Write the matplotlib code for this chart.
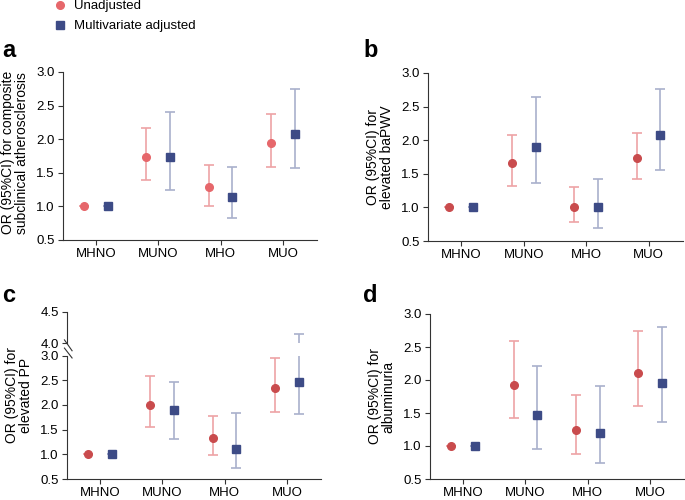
import numpy as np
import matplotlib
matplotlib.use("Agg")
import matplotlib.pyplot as plt

plt.rcParams['font.family'] = ['Liberation Sans', 'DejaVu Sans']

groups = ['MHNO', 'MUNO', 'MHO', 'MUO']

# panel a: composite subclinical atherosclerosis
a_unadj = [1.00, 1.73, 1.29, 1.95]
a_unadj_lo = [1.00, 1.39, 1.01, 1.59]
a_unadj_hi = [1.00, 2.16, 1.62, 2.37]
a_adj = [1.00, 1.73, 1.14, 2.08]
a_adj_lo = [1.00, 1.25, 0.82, 1.57]
a_adj_hi = [1.00, 2.41, 1.59, 2.75]

# panel b: elevated baPWV
b_unadj = [1.00, 1.66, 1.01, 1.73]
b_unadj_lo = [1.00, 1.32, 0.78, 1.42]
b_unadj_hi = [1.00, 2.08, 1.30, 2.11]
b_adj = [1.00, 1.90, 1.01, 2.07]
b_adj_lo = [1.00, 1.36, 0.70, 1.55]
b_adj_hi = [1.00, 2.65, 1.43, 2.76]

# panel c: elevated PP (broken axis)
c_unadj = [1.00, 2.00, 1.33, 2.34]
c_unadj_lo = [1.00, 1.55, 0.98, 1.86]
c_unadj_hi = [1.00, 2.59, 1.78, 2.94]
c_adj = [1.00, 1.90, 1.10, 2.46]
c_adj_lo = [1.00, 1.31, 0.72, 1.82]
c_adj_hi = [1.00, 2.47, 1.83, 4.14]

# panel d: albuminuria
d_unadj = [1.00, 1.93, 1.25, 2.10]
d_unadj_lo = [1.00, 1.42, 0.88, 1.61]
d_unadj_hi = [1.00, 2.59, 1.77, 2.74]
d_adj = [1.00, 1.47, 1.20, 1.96]
d_adj_lo = [1.00, 0.96, 0.75, 1.37]
d_adj_hi = [1.00, 2.21, 1.91, 2.81]

red_light, red_dark = '#e6676b', '#c94b4d'
red_bar = '#eea3a5'
blue, blue_bar = '#3d4b86', '#a9b0cc'

x = np.arange(len(groups))
off = 0.19


def draw(ax, mu, lo, hi, ma, alo, ahi, rcol, rbar):
    mu, lo, hi = map(np.array, (mu, lo, hi))
    ma, alo, ahi = map(np.array, (ma, alo, ahi))
    ax.errorbar(x - off, mu, yerr=[mu - lo, hi - mu], fmt='o', ms=5.5,
                color=rcol, ecolor=rbar, elinewidth=1.2, capsize=3.5,
                capthick=1.2)
    ax.errorbar(x + off, ma, yerr=[ma - alo, ahi - ma], fmt='s', ms=6,
                color=blue, ecolor=blue_bar, elinewidth=1.2, capsize=3.5,
                capthick=1.2)


def style(ax, ylabel, ylab_y=0.5):
    for s in ['top', 'right']:
        ax.spines[s].set_visible(False)
    for s in ['left', 'bottom']:
        ax.spines[s].set_linewidth(0.8)
        ax.spines[s].set_color('#333333')
    ax.set_xlim(-0.53, 3.55)
    ax.set_xticks(x)
    ax.set_xticklabels(groups)
    ax.tick_params(labelsize=9.5, length=3.5, width=0.8, color='#333333', pad=2.5)
    ax.set_ylabel(ylabel, fontsize=10, linespacing=1.0)
    ax.yaxis.set_label_coords(-0.135, ylab_y)


fig = plt.figure(figsize=(6.85, 5), dpi=100)

ax_a = fig.add_axes([0.092, 0.52, 0.371, 0.336])
draw(ax_a, a_unadj, a_unadj_lo, a_unadj_hi, a_adj, a_adj_lo, a_adj_hi,
     red_light, red_bar)
ax_a.set_ylim(0.5, 3.0)
ax_a.set_yticks(np.arange(0.5, 3.01, 0.5))
style(ax_a, 'OR (95%CI) for composite\nsubclinical atherosclerosis', ylab_y=0.52)

ax_b = fig.add_axes([0.625, 0.518, 0.372, 0.336])
draw(ax_b, b_unadj, b_unadj_lo, b_unadj_hi, b_adj, b_adj_lo, b_adj_hi,
     red_dark, red_bar)
ax_b.set_ylim(0.5, 3.0)
ax_b.set_yticks(np.arange(0.5, 3.01, 0.5))
style(ax_b, 'OR (95%CI) for\nelevated baPWV')

# panel c with broken y axis
ax_c = fig.add_axes([0.0978, 0.042, 0.371, 0.247])
ax_ct = fig.add_axes([0.0978, 0.314, 0.371, 0.062])
for ax in (ax_c, ax_ct):
    draw(ax, c_unadj, c_unadj_lo, c_unadj_hi, c_adj, c_adj_lo, c_adj_hi,
         red_dark, red_bar)
ax_c.set_ylim(0.5, 3.0)
ax_c.set_yticks(np.arange(0.5, 3.01, 0.5))
style(ax_c, 'OR (95%CI) for\nelevated PP', ylab_y=0.68)
ax_ct.set_ylim(4.0, 4.5)
ax_ct.set_yticks([4.0, 4.5])
ax_ct.set_yticklabels(['4.0', '4.5'])
style(ax_ct, '')
ax_ct.spines['bottom'].set_visible(False)
ax_ct.tick_params(axis='x', bottom=False, labelbottom=False)
# break marks
kw = dict(color='#333333', lw=0.8, clip_on=False)
ax_ct.plot([-0.01, 0.02], [0.1, -0.25], transform=ax_ct.transAxes, **kw)
ax_c.plot([-0.01, 0.02], [1.06, 0.98], transform=ax_c.transAxes, **kw)

ax_d = fig.add_axes([0.628, 0.042, 0.371, 0.33])
draw(ax_d, d_unadj, d_unadj_lo, d_unadj_hi, d_adj, d_adj_lo, d_adj_hi,
     red_dark, red_bar)
ax_d.set_ylim(0.5, 3.0)
ax_d.set_yticks(np.arange(0.5, 3.01, 0.5))
style(ax_d, 'OR (95%CI) for\nalbuminuria')

for lbl, xx, yy in [('a', 0.003, 0.886), ('b', 0.53, 0.886),
                    ('c', 0.003, 0.396), ('d', 0.53, 0.396)]:
    fig.text(xx, yy, lbl, fontsize=17, fontweight='bold', va='baseline')

leg_h1 = plt.Line2D([], [], ls='', marker='o', ms=5.5, color=red_light)
leg_h2 = plt.Line2D([], [], ls='', marker='s', ms=5.5, color=blue)
fig.legend([leg_h1, leg_h2], ['Unadjusted', 'Multivariate adjusted'],
           loc='upper left', bbox_to_anchor=(0.069, 1.016), frameon=False,
           fontsize=9.5, handlelength=0.8, handletextpad=0.6, labelspacing=0.6,
           borderpad=0.1)

fig.savefig('out.png', dpi=100)
